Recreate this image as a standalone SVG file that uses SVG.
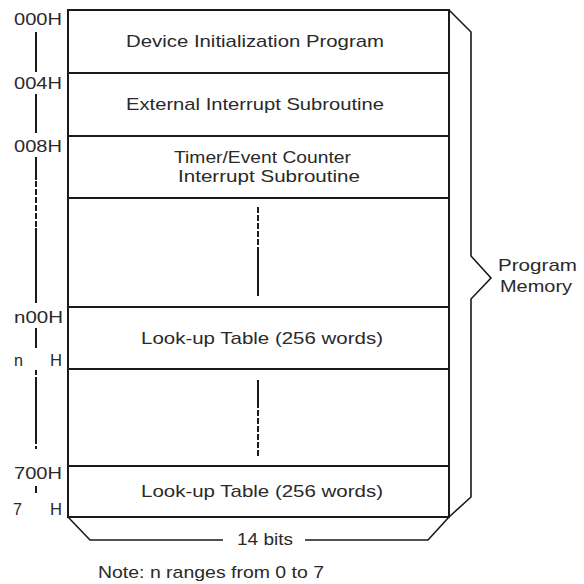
<svg xmlns="http://www.w3.org/2000/svg" width="584" height="584" viewBox="0 0 584 584">
<style>
text{font-family:"Liberation Sans",Arial,sans-serif;font-size:17px;fill:#2a2a2a}
.m{text-anchor:middle}
.ln{stroke:#1a1a1a;stroke-width:2;fill:none}
.th{stroke:#1a1a1a;stroke-width:1.6;fill:none}
.da{stroke:#1a1a1a;stroke-width:2;fill:none;stroke-dasharray:6 2}
</style>
<rect width="584" height="584" fill="#fff"/>
<g id="memory-box">
<rect class="ln" x="68" y="10" width="381" height="507"/>
</g>
<g id="row-init">
<line class="ln" x1="68" y1="73" x2="449" y2="73"/>
<text class="m" x="255" y="47" textLength="258" lengthAdjust="spacingAndGlyphs">Device Initialization Program</text>
</g>
<g id="row-ext">
<line class="ln" x1="68" y1="136" x2="449" y2="136"/>
<text class="m" x="255" y="110" textLength="258" lengthAdjust="spacingAndGlyphs">External Interrupt Subroutine</text>
</g>
<g id="row-timer">
<line class="ln" x1="68" y1="198" x2="449" y2="198"/>
<text x="174" y="163" textLength="177" lengthAdjust="spacingAndGlyphs">Timer/Event Counter</text>
<text x="178" y="182" textLength="182" lengthAdjust="spacingAndGlyphs">Interrupt Subroutine</text>
</g>
<g id="row-gap1">
<line class="ln" x1="68" y1="307" x2="449" y2="307"/>
<line class="da" x1="258" y1="207" x2="258" y2="247"/>
<line class="ln" x1="258" y1="247" x2="258" y2="296"/>
</g>
<g id="row-lookup1">
<line class="ln" x1="68" y1="369" x2="449" y2="369"/>
<text class="m" x="262" y="344" textLength="242" lengthAdjust="spacingAndGlyphs">Look-up Table (256 words)</text>
</g>
<g id="row-gap2">
<line class="ln" x1="68" y1="466" x2="449" y2="466"/>
<line class="ln" x1="258" y1="380" x2="258" y2="408"/>
<line class="da" x1="258" y1="410" x2="258" y2="457"/>
</g>
<g id="row-lookup2">
<text class="m" x="262" y="497" textLength="242" lengthAdjust="spacingAndGlyphs">Look-up Table (256 words)</text>
</g>
<g id="address-labels">
<text x="14" y="25" textLength="48" lengthAdjust="spacingAndGlyphs">000H</text>
<text x="14" y="89" textLength="48" lengthAdjust="spacingAndGlyphs">004H</text>
<text x="14" y="152" textLength="48" lengthAdjust="spacingAndGlyphs">008H</text>
<text x="14" y="323" textLength="49" lengthAdjust="spacingAndGlyphs">n00H</text>
<text x="14" y="366" textLength="9" lengthAdjust="spacingAndGlyphs">n</text>
<text x="50" y="366" textLength="12" lengthAdjust="spacingAndGlyphs">H</text>
<text x="13" y="515" textLength="9" lengthAdjust="spacingAndGlyphs">7</text>
<text x="14" y="479" textLength="48" lengthAdjust="spacingAndGlyphs">700H</text>
<text x="50" y="515" textLength="12" lengthAdjust="spacingAndGlyphs">H</text>
</g>
<g id="address-axis">
<line class="ln" x1="36" y1="32" x2="36" y2="72"/>
<line class="ln" x1="36" y1="94" x2="36" y2="133"/>
<line class="ln" x1="36" y1="157" x2="36" y2="180"/>
<line class="da" x1="36" y1="181" x2="36" y2="228"/>
<line class="ln" x1="36" y1="228" x2="36" y2="303"/>
<line class="ln" x1="36" y1="328" x2="36" y2="348"/>
<line class="ln" x1="36" y1="370" x2="36" y2="375"/>
<line class="ln" x1="36" y1="377" x2="36" y2="444"/>
<line class="ln" x1="36" y1="446" x2="36" y2="449"/>
<line class="ln" x1="36" y1="486" x2="36" y2="493"/>
</g>
<g id="program-memory-brace">
<path class="th" d="M449,10 L471,32 L471,256 L491,278 L471,299 L471,497 L449,517"/>
<text x="498" y="271" textLength="79" lengthAdjust="spacingAndGlyphs">Program</text>
<text x="500" y="292" textLength="72" lengthAdjust="spacingAndGlyphs">Memory</text>
</g>
<g id="width-dimension">
<path class="th" d="M68,517 L90,540 L223,540"/>
<path class="th" d="M305,540 L428,540 L449,517"/>
<text x="237" y="545" textLength="56" lengthAdjust="spacingAndGlyphs">14 bits</text>
</g>
<text x="98" y="578" textLength="226" lengthAdjust="spacingAndGlyphs">Note: n ranges from 0 to 7</text>
</svg>
